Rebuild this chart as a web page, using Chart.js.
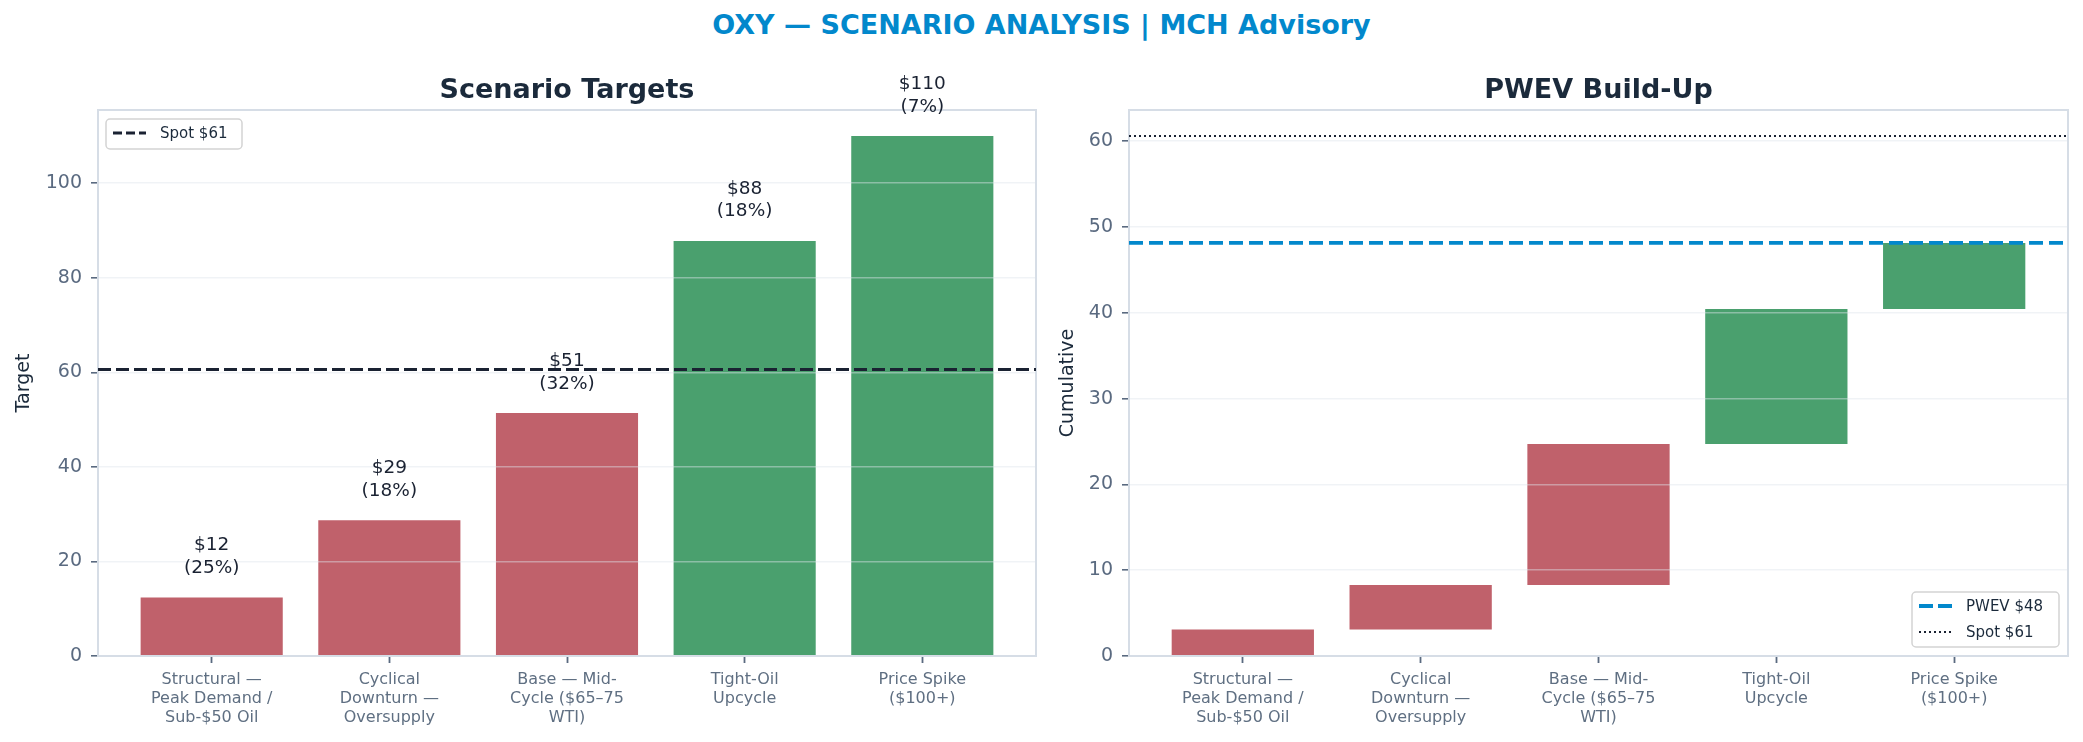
<!DOCTYPE html>
<html><head><meta charset="utf-8">
<script src="https://cdn.jsdelivr.net/npm/chart.js@4.4.1/dist/chart.umd.min.js"></script>
<style>
html,body{margin:0;padding:0;background:#fff;width:2083px;height:742px;overflow:hidden;position:relative;font-family:"DejaVu Sans",sans-serif}
canvas{position:absolute;top:0}
#c1{left:0}
#c2{left:1050px}
#title{position:absolute;left:0;width:2083px;top:9px;text-align:center;font:bold 27px "DejaVu Sans";line-height:32px;color:#0288cc}
</style></head><body>
<div id="title">OXY — SCENARIO ANALYSIS | MCH Advisory</div>
<canvas id="c1" width="1060" height="742"></canvas>
<canvas id="c2" width="1033" height="742"></canvas>
<script>
// ---- data ----
const categories = [
  ["Structural —", "Peak Demand /", "Sub-$50 Oil"],
  ["Cyclical", "Downturn —", "Oversupply"],
  ["Base — Mid-", "Cycle ($65–75", "WTI)"],
  ["Tight-Oil", "Upcycle"],
  ["Price Spike", "($100+)"]
];
const targets = [12.4, 28.7, 51.4, 87.8, 110];
const probabilities = [25, 18, 32, 18, 7];
const contributions = [3.1, 5.17, 16.45, 15.72, 7.7];
const spotPrice = 60.6;
const leftTicks = [0, 20, 40, 60, 80, 100];
const rightTicks = [0, 10, 20, 30, 40, 50, 60];
const barColors = ["#c0616b", "#c0616b", "#c0616b", "#4aa06e", "#4aa06e"];

// ---- derived ----
const pwev = contributions.reduce((a, b) => a + b, 0);
let run = 0;
const floating = contributions.map((c, i) => { const s = run; run += c; return { x: i, y: [s, run] }; });
const leftData = targets.map((v, i) => ({ x: i, y: v }));

const FONT = "DejaVu Sans";
Chart.defaults.font.family = FONT;
const TICK = "#5a6a80";
const DARK = "#1b2a3b";
const SPINE = "#d6dde6";
const BLUE = "#0288cc";

function xScale() {
  return {
    type: "linear", min: -0.64, max: 4.64, offset: false,
    afterBuildTicks: s => { s.ticks = categories.map((c, i) => ({ value: i })); },
    afterFit: s => { s.height = 86; },
    ticks: { autoSkip: false, maxRotation: 0, minRotation: 0, padding: 7, color: "#5f6f82",
      font: { size: 16, lineHeight: 1.19 }, callback: v => categories[v] },
    grid: { drawOnChartArea: false, drawTicks: true, tickLength: 7, tickColor: TICK, tickWidth: 1.8, offset: false },
    border: { display: false }
  };
}
function yScale(max, ticks, width, label, tpad) {
  return {
    type: "linear", min: 0, max: max,
    afterBuildTicks: s => { s.ticks = ticks.map(v => ({ value: v })); },
    afterFit: s => { s.width = width; },
    ticks: { color: TICK, font: { size: 19 }, padding: 9 },
    grid: { z: 1, color: "rgba(222,228,235,0.45)", lineWidth: 1.6, tickColor: TICK, tickLength: 7, tickWidth: 1.6 },
    border: { display: false },
    title: { display: true, text: label, color: DARK, font: { size: 19 }, padding: { top: tpad, bottom: 0 } }
  };
}
function drawFrame(chart, title) {
  const { ctx, chartArea: a } = chart;
  ctx.save();
  ctx.strokeStyle = SPINE; ctx.lineWidth = 2;
  ctx.strokeRect(a.left, a.top, a.right - a.left, a.bottom - a.top);
  ctx.fillStyle = DARK; ctx.font = "bold 27px " + FONT;
  ctx.textAlign = "center"; ctx.textBaseline = "alphabetic";
  ctx.fillText(title, (a.left + a.right) / 2, 98);
  ctx.restore();
}
function hline(chart, value, color, width, dash) {
  const { ctx, chartArea: a } = chart;
  const y = chart.scales.y.getPixelForValue(value);
  ctx.save();
  ctx.beginPath(); ctx.rect(a.left, a.top - 2, a.right - a.left, a.bottom - a.top + 4); ctx.clip();
  ctx.strokeStyle = color; ctx.lineWidth = width; ctx.setLineDash(dash);
  ctx.beginPath(); ctx.moveTo(a.left, y); ctx.lineTo(a.right, y); ctx.stroke();
  ctx.restore();
}
function legendBox(ctx, x, y, w, h, items) {
  ctx.save();
  ctx.fillStyle = "rgba(255,255,255,0.85)";
  ctx.strokeStyle = "#d3d3d3"; ctx.lineWidth = 1.5;
  ctx.beginPath(); ctx.roundRect(x, y, w, h, 4); ctx.fill(); ctx.stroke();
  ctx.font = "15px " + FONT; ctx.textBaseline = "middle"; ctx.textAlign = "left";
  items.forEach((it, i) => {
    const ry = y + 14 + i * 26;
    ctx.strokeStyle = it.color; ctx.lineWidth = it.width; ctx.setLineDash(it.dash);
    ctx.beginPath(); ctx.moveTo(x + 7, ry); ctx.lineTo(x + 40, ry); ctx.stroke();
    ctx.setLineDash([]);
    ctx.fillStyle = DARK; ctx.fillText(it.text, x + 54, ry + 1);
  });
  ctx.restore();
}

new Chart(document.getElementById("c1"), {
  type: "bar",
  data: { datasets: [{ data: leftData, backgroundColor: barColors, borderWidth: 0,
    barPercentage: 0.8, categoryPercentage: 1.0 }] },
  options: {
    responsive: false, animation: false, devicePixelRatio: 1,
    layout: { padding: { top: 110, right: 24, bottom: 0, left: 0 } },
    plugins: { legend: { display: false }, tooltip: { enabled: false } },
    scales: { x: xScale(), y: yScale(115.5, leftTicks, 98, "Target", 13) }
  },
  plugins: [{
    id: "leftDeco",
    afterDraw(chart) {
      const ctx = chart.ctx;
      drawFrame(chart, "Scenario Targets");
      hline(chart, spotPrice, "#1a2232", 3, [13, 5]);
      const meta = chart.getDatasetMeta(0);
      ctx.save();
      ctx.fillStyle = "#1a2232"; ctx.font = "18.5px " + FONT;
      ctx.textAlign = "center"; ctx.textBaseline = "alphabetic";
      meta.data.forEach((bar, i) => {
        ctx.fillText("$" + Math.round(targets[i]), bar.x, bar.y - 47);
        ctx.fillText("(" + probabilities[i] + "%)", bar.x, bar.y - 24.5);
      });
      ctx.restore();
      legendBox(ctx, 106, 119, 136, 30, [
        { text: "Spot $" + Math.round(spotPrice), color: "#1a2232", width: 3, dash: [9, 4] }
      ]);
    }
  }]
});

new Chart(document.getElementById("c2"), {
  type: "bar",
  data: { datasets: [{ data: floating, backgroundColor: barColors, borderWidth: 0, borderSkipped: false,
    barPercentage: 0.8, categoryPercentage: 1.0 }] },
  options: {
    responsive: false, animation: false, devicePixelRatio: 1,
    layout: { padding: { top: 110, right: 15, bottom: 0, left: 0 } },
    plugins: { legend: { display: false }, tooltip: { enabled: false } },
    scales: { x: xScale(), y: yScale(spotPrice * 1.05, rightTicks, 79, "Cumulative", 7) }
  },
  plugins: [{
    id: "rightDeco",
    afterDraw(chart) {
      const ctx = chart.ctx;
      drawFrame(chart, "PWEV Build-Up");
      hline(chart, pwev, BLUE, 3.8, [14, 6]);
      hline(chart, spotPrice, "#1a2232", 1.8, [2, 3]);
      legendBox(ctx, 862, 592, 147, 55, [
        { text: "PWEV $" + Math.round(pwev), color: BLUE, width: 3.8, dash: [14, 5] },
        { text: "Spot $" + Math.round(spotPrice), color: "#1a2232", width: 1.8, dash: [2, 3] }
      ]);
    }
  }]
});
</script>
</body></html>
